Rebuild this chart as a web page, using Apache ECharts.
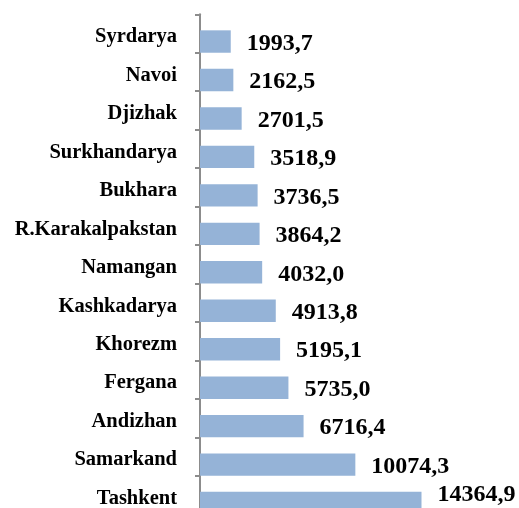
<!DOCTYPE html>
<html>
<head>
<meta charset="utf-8">
<script src="https://cdn.jsdelivr.net/npm/echarts@6/dist/echarts.min.js"></script>
<style>
html,body{margin:0;padding:0;background:#fff;}
#chart{width:519px;height:508px;}
</style>
</head>
<body>
<div id="chart"></div>
<script>
const categories = ["Syrdarya","Navoi","Djizhak","Surkhandarya","Bukhara","R.Karakalpakstan","Namangan","Kashkadarya","Khorezm","Fergana","Andizhan","Samarkand","Tashkent"];
const values = [1993.7,2162.5,2701.5,3518.9,3736.5,3864.2,4032.0,4913.8,5195.1,5735.0,6716.4,10074.3,14364.9];

const FONT = "Liberation Serif";
const chart = echarts.init(document.getElementById('chart'), null, {renderer:'canvas'});
const fmt = v => v.toFixed(1).replace('.', ',');

const barData = values.map((v, i) => i === values.length - 1
  ? {value: v, label: {offset: [0, -8]}}
  : v);

chart.setOption({
  animation: false,
  backgroundColor: '#ffffff',
  grid: [
    {left: 200, top: 14.3, height: 500, width: 308.4, outerBoundsMode: 'none', containLabel: false},
    {left: 200, top: 22.3, height: 500, width: 308.4, outerBoundsMode: 'none', containLabel: false}
  ],
  xAxis: [
    {gridIndex: 0, type: 'value', min: 0, max: 20000, show: false},
    {gridIndex: 1, type: 'value', min: 0, max: 20000, show: false}
  ],
  yAxis: [
    {
      gridIndex: 0, type: 'category', data: categories, inverse: true,
      axisLine: {show: true, lineStyle: {color: '#8c8c8c', width: 2}},
      axisTick: {show: true, length: 5, lineStyle: {color: '#8c8c8c', width: 2}},
      axisLabel: {
        margin: 23, color: '#000', fontFamily: FONT, fontWeight: 'bold', fontSize: 20.5,
        formatter: v => '{a|' + v + '}',
        rich: {a: {color: '#000', fontFamily: FONT, fontWeight: 'bold', fontSize: 20.5, padding: [7, 0, 0, 0]}}
      },
      splitLine: {show: false}
    },
    {
      gridIndex: 1, type: 'category', data: categories, inverse: true, show: false
    }
  ],
  series: [{
    type: 'bar',
    xAxisIndex: 1, yAxisIndex: 1,
    data: barData,
    barWidth: 22.4,
    itemStyle: {color: '#95b3d7'},
    label: {
      show: true, position: 'right', distance: 16,
      offset: [0, 2],
      color: '#000', fontFamily: FONT, fontWeight: 'bold', fontSize: 24,
      formatter: p => fmt(p.value)
    }
  }]
});
</script>
</body>
</html>
